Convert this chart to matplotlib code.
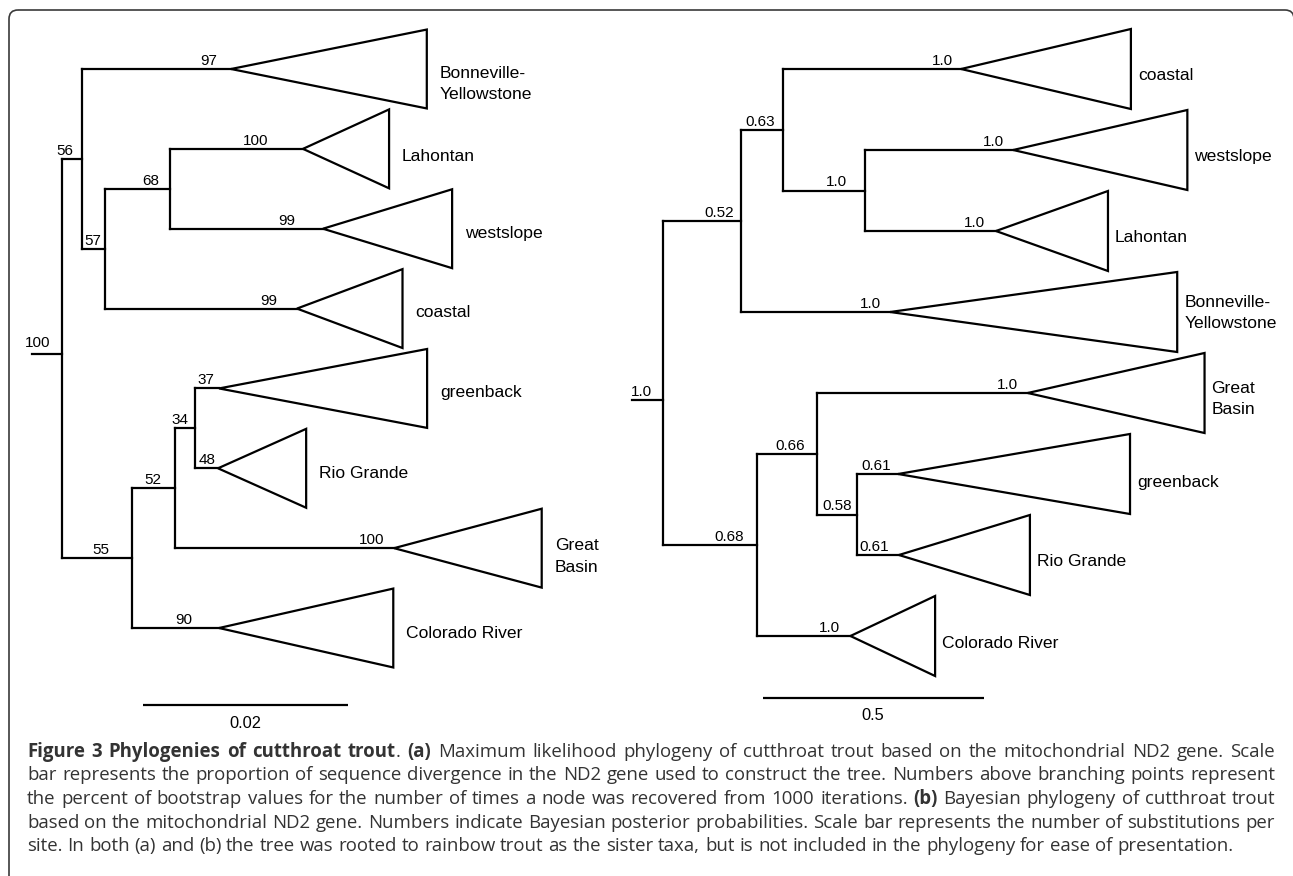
import matplotlib
matplotlib.use('Agg')
import matplotlib.pyplot as plt
from matplotlib.patches import Polygon, FancyBboxPatch

W, H = 1293, 876

# ---- (a) maximum likelihood tree, branch lengths in substitutions/site
a_nodes   = ['root', 'n56', 'bonn', 'n57', 'n68', 'lah', 'west', 'coast',
             'n55', 'n52', 'n34', 'green', 'rio', 'gbas', 'colo']
a_parent  = [None, 'root', 'n56', 'n56', 'n57', 'n68', 'n68', 'n57',
             'root', 'n55', 'n52', 'n34', 'n34', 'n52', 'n55']
a_length  = [0.0029, 0.00195, 0.01454, 0.00224, 0.00634, 0.01298, 0.01493, 0.01873,
             0.00683, 0.0042, 0.00195, 0.00234, 0.00224, 0.02137, 0.00849]
a_support = ['100', '56', '97', '57', '68', '100', '99', '99',
             '55', '52', '34', '37', '48', '100', '90']
a_leaves  = ['bonn', 'lah', 'west', 'coast', 'green', 'rio', 'gbas', 'colo']
a_names   = ['Bonneville-\nYellowstone', 'Lahontan', 'westslope', 'coastal',
             'greenback', 'Rio Grande', 'Great\nBasin', 'Colorado River']
a_clade   = [0.0191, 0.0084, 0.0126, 0.0103, 0.0203, 0.0086, 0.0144, 0.0170]
a_scale   = 0.02

# ---- (b) Bayesian tree
b_nodes   = ['root', 'n52', 'n63', 'coast', 'n10', 'west', 'lah', 'bonn',
             'n68', 'n66', 'gbas', 'n58', 'green', 'rio', 'colo']
b_parent  = [None, 'root', 'n52', 'n63', 'n63', 'n10', 'n10', 'n52',
             'root', 'n68', 'n66', 'n66', 'n58', 'n58', 'n68']
b_length  = [0.070, 0.177, 0.095, 0.404, 0.186, 0.336, 0.297, 0.338,
             0.213, 0.136, 0.478, 0.091, 0.093, 0.095, 0.212]
b_support = ['1.0', '0.52', '0.63', '1.0', '1.0', '1.0', '1.0', '1.0',
             '0.68', '0.66', '1.0', '0.58', '0.61', '0.61', '1.0']
b_leaves  = ['coast', 'west', 'lah', 'bonn', 'gbas', 'green', 'rio', 'colo']
b_names   = ['coastal', 'westslope', 'Lahontan', 'Bonneville-\nYellowstone',
             'Great\nBasin', 'greenback', 'Rio Grande', 'Colorado River']
b_clade   = [0.385, 0.395, 0.254, 0.651, 0.401, 0.526, 0.297, 0.192]
b_scale   = 0.5

caption = [
    "**Figure 3 Phylogenies of cutthroat trout**. **(a)** Maximum likelihood phylogeny of cutthroat trout based on the mitochondrial ND2 gene. Scale",
    "bar represents the proportion of sequence divergence in the ND2 gene used to construct the tree. Numbers above branching points represent",
    "the percent of bootstrap values for the number of times a node was recovered from 1000 iterations. **(b)** Bayesian phylogeny of cutthroat trout",
    "based on the mitochondrial ND2 gene. Numbers indicate Bayesian posterior probabilities. Scale bar represents the number of substitutions per",
    "site. In both (a) and (b) the tree was rooted to rainbow trout as the sister taxa, but is not included in the phylogeny for ease of presentation.",
]

# layout (pixels)
a_style = dict(x0=62, ppu=10250, y0=69, step=79.86, root_dy=-4, root_up=7, pad=13,
               bar=(143, 705), bar_lab=23,
               sup_dx=[24, 17, 22, 12, 19, 47, 36, 28, 31, 22, 15, 13, 11, 22, 35],
               lab_dy=[9, 12, 9, 8, 9, 10, 2, 10])
b_style = dict(x0=663, ppu=441, y0=69, step=81.0, root_dy=17, root_up=4, pad=7,
               bar=(763, 697.7), bar_lab=22,
               sup_dx=[22, 22, 23, 19, 29, 20, 22, 20, 28, 27, 20, 20, 22, 24.5, 20.5],
               lab_dy=[11, 11.5, 11.5, -5, 0, 12.5, 10.5, 12])

LW = 1.6
tfont = dict(family='Liberation Sans', color='black')

fig = plt.figure(figsize=(W / 100, H / 100), dpi=100)


def draw_tree(nodes, parent, length, support, leaves, names, clade, scale, st):
    ax = fig.add_axes([0, 0, 1, 1])
    ppu, step = st['ppu'], st['step']
    ax.set_xlim(-st['x0'] / ppu, (W - st['x0']) / ppu)
    ax.set_ylim((H - st['y0']) / step, -st['y0'] / step)
    ax.axis('off')

    kids = {n: [] for n in nodes}
    depth = {}
    for n, p, l in zip(nodes, parent, length):
        depth[n] = 0.0 if p is None else depth[p] + l
        if p is not None:
            kids[p].append(n)

    ypos = {}
    count = [0]

    def place(n):
        if not kids[n]:
            ypos[n] = count[0]
            count[0] += 1
        else:
            for k in kids[n]:
                place(k)
            ypos[n] = (ypos[kids[n][0]] + ypos[kids[n][-1]]) / 2
    place('root')

    line = dict(color='black', lw=LW, solid_capstyle='projecting')
    for i, (n, p) in enumerate(zip(nodes, parent)):
        if p is None:
            yr = ypos[n] + st['root_dy'] / step
            ax.plot([-length[i], 0], [yr, yr], **line)
            ax.annotate(support[i], (0, yr), xytext=(-st['sup_dx'][i], st['root_up']),
                        textcoords='offset pixels', ha='center', va='baseline',
                        fontsize=11, **tfont)
        else:
            ax.plot([depth[p], depth[n]], [ypos[n], ypos[n]], **line)
            ax.annotate(support[i], (depth[n], ypos[n]), xytext=(-st['sup_dx'][i], 4),
                        textcoords='offset pixels', ha='center', va='baseline',
                        fontsize=11, **tfont)
        if kids[n]:
            ax.plot([depth[n], depth[n]], [ypos[kids[n][0]], ypos[kids[n][-1]]], **line)

    for j, leaf in enumerate(leaves):
        d, y, c = depth[leaf], ypos[leaf], clade[j]
        ax.add_patch(Polygon([(d, y), (d + c, y - 0.494), (d + c, y + 0.494)],
                             closed=True, fill=False, ec='black', lw=LW, joinstyle='miter'))
        for k, txt in enumerate(names[j].split('\n')):
            ax.annotate(txt, (d + c, y), xytext=(st['pad'], -(st['lab_dy'][j] + 21.5 * k)),
                        textcoords='offset pixels', ha='left', va='baseline',
                        fontsize=12.6, **tfont)

    bx = (st['bar'][0] - st['x0']) / ppu
    by = (st['bar'][1] - st['y0']) / step
    ax.plot([bx, bx + scale], [by, by], color='black', lw=LW, solid_capstyle='butt')
    ax.annotate(f'{scale:g}', (bx + scale / 2, by), xytext=(0, -st['bar_lab']),
                textcoords='offset pixels', ha='center', va='baseline',
                fontsize=11.8, **tfont)


draw_tree(a_nodes, a_parent, a_length, a_support, a_leaves, a_names, a_clade, a_scale, a_style)
draw_tree(b_nodes, b_parent, b_length, b_support, b_leaves, b_names, b_clade, b_scale, b_style)

# frame and caption in pixel coordinates
cap = fig.add_axes([0, 0, 1, 1])
cap.set_xlim(0, W)
cap.set_ylim(H, 0)
cap.axis('off')
cap.add_patch(FancyBboxPatch((9, 10), 1285, 900, boxstyle='round,pad=0,rounding_size=9',
                             fill=False, ec='#3a3a3a', lw=1.2))

cfont = dict(family='Open Sans', fontsize=13.4, color='#333333', va='baseline', ha='left')
r = fig.canvas.get_renderer()
t1 = cap.text(0, 0, 'n n', **cfont)
t2 = cap.text(0, 0, 'nn', **cfont)
space = t1.get_window_extent(r).width - t2.get_window_extent(r).width
t1.remove()
t2.remove()

left, right = 27, 1275
baselines = [757, 780.5, 804, 827.5, 851]
bold = False
for i, text in enumerate(caption):
    y = baselines[i]
    words = []
    for w in text.split(' '):
        segs = []
        for j, part in enumerate(w.split('**')):
            if j > 0:
                bold = not bold
            if part:
                segs.append((part, bold))
        words.append(segs)
    arts, total = [], 0
    for segs in words:
        ts = [cap.text(0, y, s, fontweight='bold' if b else 'normal', **cfont) for s, b in segs]
        ws = [t.get_window_extent(r).width for t in ts]
        arts.append((ts, ws))
        total += sum(ws)
    gap = space if i == len(caption) - 1 else (right - left - total) / (len(words) - 1)
    x = left
    for ts, ws in arts:
        for t, w in zip(ts, ws):
            t.set_x(x)
            x += w
        x += gap

fig.savefig('out.png', dpi=100)
